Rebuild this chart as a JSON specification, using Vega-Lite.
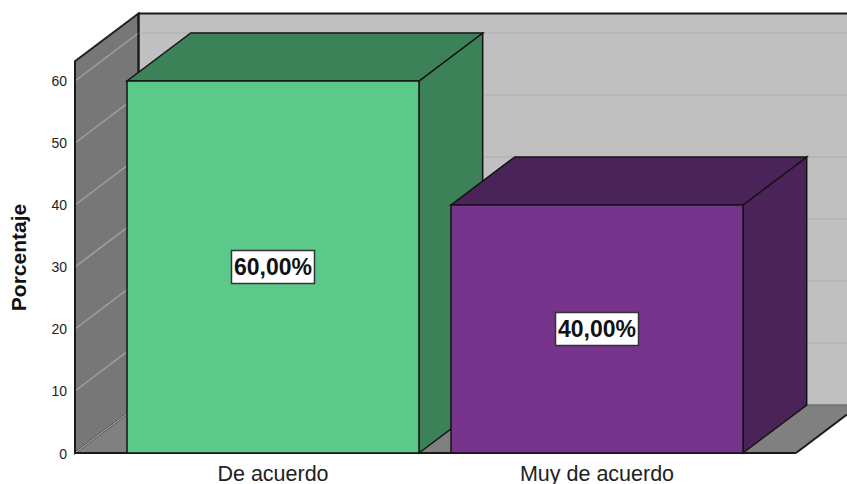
{
"$schema":"https://vega.github.io/schema/vega-lite/v6.json",
"width":772,"height":453,"autosize":{"type":"none"},
"padding":{"left":75,"right":0,"top":0,"bottom":31},
"background":"white",
"config":{"view":{"stroke":null},"font":"Liberation Sans"},
"datasets":{
"barras":[{"categoria":"De acuerdo","porcentaje":60,"centro":30,"etiqueta":"60,00%"},{"categoria":"Muy de acuerdo","porcentaje":40,"centro":20,"etiqueta":"40,00%"}],
"pared":[{"px":138.5,"base":7.74,"tope":70.9},{"px":847,"base":7.74,"tope":70.9}],
"lateral":[{"px":75,"base":0,"tope":63.2},{"px":138.5,"base":7.74,"tope":70.9}],
"suelo":[{"py":0,"desde":75,"hasta":796},{"py":7.74,"desde":138.5,"hasta":859.5}],
"rejilla":[{"tipo":"pared","x0":138.5,"x1":847,"y0":67.74,"y1":67.74},{"tipo":"pared","x0":138.5,"x1":847,"y0":57.74,"y1":57.74},{"tipo":"pared","x0":138.5,"x1":847,"y0":47.74,"y1":47.74},{"tipo":"pared","x0":138.5,"x1":847,"y0":37.74,"y1":37.74},{"tipo":"pared","x0":138.5,"x1":847,"y0":27.74,"y1":27.74},{"tipo":"pared","x0":138.5,"x1":847,"y0":17.74,"y1":17.74},
{"tipo":"lateral","x0":75,"x1":138.5,"y0":60,"y1":67.74},{"tipo":"lateral","x0":75,"x1":138.5,"y0":50,"y1":57.74},{"tipo":"lateral","x0":75,"x1":138.5,"y0":40,"y1":47.74},{"tipo":"lateral","x0":75,"x1":138.5,"y0":30,"y1":37.74},{"tipo":"lateral","x0":75,"x1":138.5,"y0":20,"y1":27.74},{"tipo":"lateral","x0":75,"x1":138.5,"y0":10,"y1":17.74},{"tipo":"lateral","x0":75,"x1":138.5,"y0":0,"y1":7.74},
{"tipo":"fondo","x0":138.5,"x1":847,"y0":7.74,"y1":7.74}],
"bordes":[{"x0":138.5,"x1":847,"y0":70.9,"y1":70.9},{"x0":75,"x1":796,"y0":0,"y1":0},{"x0":796,"x1":847,"y0":0,"y1":6.22},{"x0":75,"x1":75,"y0":0,"y1":63.2},{"x0":138.5,"x1":138.5,"y0":7.74,"y1":70.9}],
"costados":[{"categoria":"De acuerdo","px":419,"base":0,"tope":60},{"categoria":"De acuerdo","px":482.7,"base":7.74,"tope":67.74},{"categoria":"Muy de acuerdo","px":743,"base":0,"tope":40},{"categoria":"Muy de acuerdo","px":806.7,"base":7.74,"tope":47.74}],
"tapas":[{"categoria":"De acuerdo","py":60,"desde":127,"hasta":419},{"categoria":"De acuerdo","py":67.74,"desde":190.7,"hasta":482.7},{"categoria":"Muy de acuerdo","py":40,"desde":451,"hasta":743},{"categoria":"Muy de acuerdo","py":47.74,"desde":514.7,"hasta":806.7}]
},
"resolve":{"scale":{"x":"independent","color":"independent"},"axis":{"x":"independent","y":"independent"}},
"layer":[
{"data":{"name":"pared"},"mark":{"type":"area","fill":"#c0c0c0"},
"encoding":{"x":{"field":"px","type":"quantitative","scale":{"domain":[75,847]},"axis":null},
"y":{"field":"base","type":"quantitative","scale":{"domain":[0,73.06],"nice":false},"axis":null},"y2":{"field":"tope"}}},
{"data":{"name":"suelo"},"mark":{"type":"area","orient":"horizontal","fill":"#808080","clip":true},
"encoding":{"y":{"field":"py","type":"quantitative","scale":{"domain":[0,73.06],"nice":false},"axis":null},
"x":{"field":"desde","type":"quantitative","scale":{"domain":[75,847]},"axis":null},"x2":{"field":"hasta"}}},
{"data":{"name":"lateral"},"mark":{"type":"area","fill":"#777777","stroke":"#222222","strokeWidth":2},
"encoding":{"x":{"field":"px","type":"quantitative","scale":{"domain":[75,847]},"axis":null},
"y":{"field":"base","type":"quantitative","scale":{"domain":[0,73.06],"nice":false},"axis":null},"y2":{"field":"tope"}}},
{"data":{"name":"rejilla"},"mark":{"type":"rule","strokeWidth":1.5},
"encoding":{"x":{"field":"x0","type":"quantitative","scale":{"domain":[75,847]},"axis":null},"x2":{"field":"x1"},
"y":{"field":"y0","type":"quantitative","scale":{"domain":[0,73.06],"nice":false},"axis":null},"y2":{"field":"y1"},
"color":{"field":"tipo","type":"nominal","legend":null,"scale":{"domain":["pared","lateral","fondo"],"range":["#b4b4b4","#a2a2a2","#6f6f6f"]}}}},
{"data":{"name":"bordes"},"mark":{"type":"rule","strokeWidth":2,"color":"#1a1a1a"},
"encoding":{"x":{"field":"x0","type":"quantitative","scale":{"domain":[75,847]},"axis":null},"x2":{"field":"x1"},
"y":{"field":"y0","type":"quantitative","scale":{"domain":[0,73.06],"nice":false},"axis":null},"y2":{"field":"y1"}}},
{"data":{"name":"costados"},"mark":{"type":"area","stroke":"#141414","strokeWidth":1.5},
"encoding":{"x":{"field":"px","type":"quantitative","scale":{"domain":[75,847]},"axis":null},
"y":{"field":"base","type":"quantitative","scale":{"domain":[0,73.06],"nice":false},"axis":null},"y2":{"field":"tope"},
"color":{"field":"categoria","type":"nominal","legend":null,"scale":{"domain":["De acuerdo","Muy de acuerdo"],"range":["#3c8157","#4a2359"]}}}},
{"data":{"name":"tapas"},"mark":{"type":"area","orient":"horizontal","stroke":"#141414","strokeWidth":1.5},
"encoding":{"y":{"field":"py","type":"quantitative","scale":{"domain":[0,73.06],"nice":false},"axis":null},
"x":{"field":"desde","type":"quantitative","scale":{"domain":[75,847]},"axis":null},"x2":{"field":"hasta"},
"color":{"field":"categoria","type":"nominal","legend":null,"scale":{"domain":["De acuerdo","Muy de acuerdo"],"range":["#3c8157","#4a2359"]}}}},
{"data":{"name":"barras"},"mark":{"type":"bar","stroke":"#141414","strokeWidth":1.5},
"encoding":{"x":{"field":"categoria","type":"nominal","sort":null,"scale":{"range":[36,684],"paddingInner":0.0988,"paddingOuter":0.0494},
"axis":{"title":null,"labelAngle":0,"ticks":false,"domain":false,"labelFontSize":21.5,"labelColor":"#222222","labelPadding":10,"labelFont":"Liberation Sans"}},
"y":{"field":"porcentaje","type":"quantitative","scale":{"domain":[0,73.06],"nice":false},
"axis":{"values":[0,10,20,30,40,50,60],"title":"Porcentaje","grid":false,"ticks":false,"domain":false,"labelFontSize":14,"labelColor":"#222222","labelPadding":8.5,"labelOffset":1,"labelFont":"Liberation Sans","titleFont":"Liberation Sans","titleFontSize":21,"titleFontWeight":"bold","titleColor":"#111111","titleAngle":-90,"titleX":-50,"titleY":257,"titleAlign":"center","titleBaseline":"alphabetic"}},
"color":{"field":"categoria","type":"nominal","legend":null,"scale":{"domain":["De acuerdo","Muy de acuerdo"],"range":["#5cc98b","#76348c"]}}}},
{"data":{"name":"barras"},"mark":{"type":"point","filled":true,"fill":"white","stroke":"#333333","strokeWidth":1.5,"opacity":1,"size":4,"shape":"M-41.5,-16.5H41.5V16.5H-41.5Z"},
"encoding":{"x":{"field":"categoria","type":"nominal","sort":null,"scale":{"range":[36,684],"paddingInner":0.0988,"paddingOuter":0.0494},"axis":null},
"y":{"field":"centro","type":"quantitative","scale":{"domain":[0,73.06],"nice":false},"axis":null}}},
{"data":{"name":"barras"},"mark":{"type":"text","font":"Liberation Sans","fontWeight":"bold","fontSize":23,"color":"#111111","baseline":"middle","dy":1},
"encoding":{"x":{"field":"categoria","type":"nominal","sort":null,"scale":{"range":[36,684],"paddingInner":0.0988,"paddingOuter":0.0494},"axis":null},
"y":{"field":"centro","type":"quantitative","scale":{"domain":[0,73.06],"nice":false},"axis":null},
"text":{"field":"etiqueta"}}}
]
}
